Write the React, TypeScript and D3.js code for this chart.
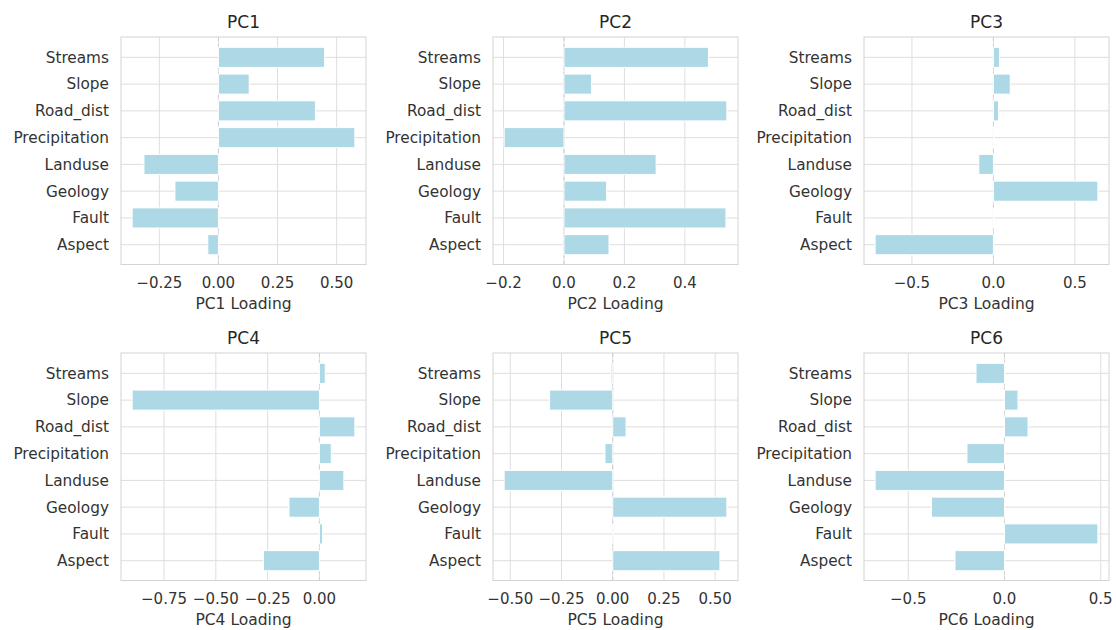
import * as d3 from "d3";
import React from "react";

// features in plotting order (bottom to top)
const features = ["Aspect", "Fault", "Geology", "Landuse", "Precipitation", "Road_dist", "Slope", "Streams"];

const pc1 = [-0.045, -0.365, -0.184, -0.315, 0.577, 0.41, 0.13, 0.449];
const pc2 = [0.149, 0.536, 0.141, 0.305, -0.198, 0.539, 0.091, 0.478];
const pc3 = [-0.726, 0.002, 0.641, -0.09, 0.004, 0.031, 0.103, 0.037];
const pc4 = [-0.27, 0.015, -0.147, 0.118, 0.057, 0.171, -0.904, 0.028];
const pc5 = [0.523, 0.003, 0.557, -0.53, -0.038, 0.065, -0.308, -0.008];
const pc6 = [-0.257, 0.485, -0.379, -0.672, -0.195, 0.122, 0.07, -0.148];

const pcNames = ["PC1", "PC2", "PC3", "PC4", "PC5", "PC6"];
const pcValues = [pc1, pc2, pc3, pc4, pc5, pc6];

const tickValues = [
  [-0.25, 0, 0.25, 0.5],
  [-0.2, 0, 0.2, 0.4],
  [-0.5, 0, 0.5],
  [-0.75, -0.5, -0.25, 0],
  [-0.5, -0.25, 0, 0.25, 0.5],
  [-0.5, 0, 0.5],
];
const tickDecimals = [2, 1, 1, 2, 2, 1];

const colLeft = [121, 493, 864];
const rowTop = [37, 353];
const panelW = 245;
const panelH = 227.5;

const font = "DejaVu Sans, sans-serif";
const gridColor = "#dedede";
const textColor = "#333";

function fmt(v: number, d: number) {
  const s = Math.abs(v).toFixed(d);
  return v < 0 ? "\u2212" + s : s;
}

function Panel({ idx }: { idx: number }) {
  const vals = pcValues[idx];
  const x0 = colLeft[idx % 3];
  const y0 = rowTop[Math.floor(idx / 3)];
  const lo = Math.min(0, d3.min(vals)!);
  const hi = Math.max(0, d3.max(vals)!);
  const pad = (hi - lo) * 0.05;

  const x = d3.scaleLinear().domain([lo - pad, hi + pad]).range([0, panelW]);
  const y = d3.scaleLinear().domain([-0.74, 7.76]).range([panelH, 0]);
  const barH = y(0) - y(0.75);

  return (
    <g transform={`translate(${x0},${y0})`}>
      <text x={panelW / 2} y={-9.5} textAnchor="middle" fontFamily={font} fontSize={17} fill="#262626">
        {pcNames[idx]}
      </text>
      {tickValues[idx].map((t) => (
        <line key={"gx" + t} x1={x(t)} x2={x(t)} y1={0} y2={panelH} stroke={gridColor} strokeWidth={1} />
      ))}
      {features.map((f, i) => (
        <line key={"gy" + f} x1={0} x2={panelW} y1={y(i)} y2={y(i)} stroke={gridColor} strokeWidth={1} />
      ))}
      <line x1={x(0)} x2={x(0)} y1={0} y2={panelH} stroke="#cfcfcf" strokeWidth={1} strokeDasharray="4,3" />
      {vals.map((v, i) => (
        <rect
          key={"b" + i}
          x={Math.min(x(0), x(v))}
          y={y(i) - barH / 2}
          width={Math.abs(x(v) - x(0))}
          height={barH}
          fill="#add8e6"
          stroke="#fff"
          strokeWidth={1}
        />
      ))}
      <rect x={0} y={0} width={panelW} height={panelH} fill="none" stroke="#d4d4d4" strokeWidth={1} />
      {features.map((f, i) => (
        <text key={"yl" + f} x={-12} y={y(i)} dy="0.35em" textAnchor="end" fontFamily={font} fontSize={15.3} fill={textColor}>
          {f}
        </text>
      ))}
      {tickValues[idx].map((t) => (
        <text key={"xl" + t} x={x(t)} y={panelH + 23} textAnchor="middle" fontFamily={font} fontSize={15} fill={textColor}>
          {fmt(t, tickDecimals[idx])}
        </text>
      ))}
      <text x={panelW / 2} y={panelH + 44} textAnchor="middle" fontFamily={font} fontSize={15.5} fill={textColor}>
        {pcNames[idx] + " Loading"}
      </text>
    </g>
  );
}

export default function App() {
  return (
    <div style={{ position: "fixed", left: 0, top: 0 }}>
      <svg width={1116} height={630} style={{ display: "block", background: "#fff" }}>
        {pcNames.map((p, i) => (
          <Panel key={p} idx={i} />
        ))}
      </svg>
    </div>
  );
}
